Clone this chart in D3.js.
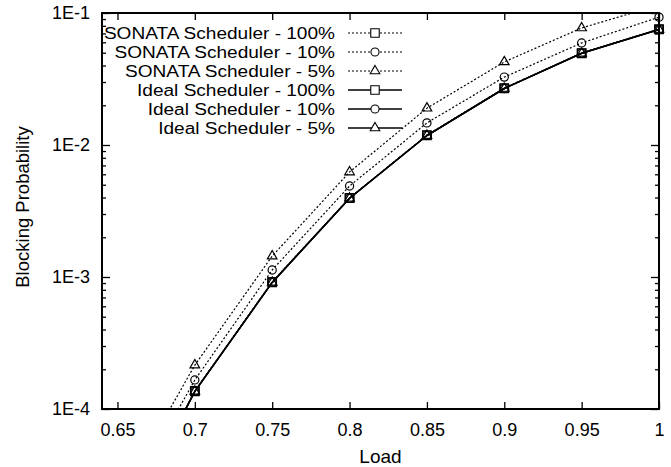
<!DOCTYPE html>
<html>
<head>
<meta charset="utf-8">
<title>Blocking Probability vs Load</title>
<script src="https://cdn.jsdelivr.net/npm/d3@7"></script>
<style>
  body { margin: 0; background: #fff; }
  text { font-family: "Liberation Sans", Arial, Helvetica, sans-serif; fill: #000; }
</style>
</head>
<body>
<div id="chart"></div>
<script>
// values
const loads = [0.65, 0.7, 0.75, 0.8, 0.85, 0.9, 0.95, 1.0];
const sonata100 = [1.0e-5, 1.37e-4, 9.2e-4, 3.97e-3, 1.19e-2, 2.7e-2, 4.97e-2, 7.56e-2];
const sonata10 = [1.5e-5, 1.66e-4, 1.13e-3, 4.89e-3, 1.47e-2, 3.27e-2, 5.93e-2, 9.3e-2];
const sonata5 = [2.0e-5, 2.15e-4, 1.44e-3, 6.24e-3, 1.9e-2, 4.26e-2, 7.7e-2, 1.15e-1];
const ideal100 = [1.0e-5, 1.36e-4, 9.1e-4, 3.95e-3, 1.18e-2, 2.68e-2, 4.95e-2, 7.5e-2];
const ideal10 = [1.0e-5, 1.36e-4, 9.1e-4, 3.95e-3, 1.18e-2, 2.68e-2, 4.95e-2, 7.5e-2];
const ideal5 = [1.0e-5, 1.36e-4, 9.1e-4, 3.95e-3, 1.18e-2, 2.68e-2, 4.95e-2, 7.5e-2];
const xTicks = [0.65, 0.7, 0.75, 0.8, 0.85, 0.9, 0.95, 1];
const yTicks = [1e-4, 1e-3, 1e-2, 1e-1];
const yTickLabels = ["1E-4", "1E-3", "1E-2", "1E-1"];

const series = [
  { name: "SONATA Scheduler - 100%", values: sonata100, shape: d3.symbolSquare, size: 72, dotted: true },
  { name: "SONATA Scheduler - 10%", values: sonata10, shape: d3.symbolCircle, size: 52, dotted: true },
  { name: "SONATA Scheduler - 5%", values: sonata5, shape: d3.symbolTriangle, size: 40, dotted: true },
  { name: "Ideal Scheduler - 100%", values: ideal100, shape: d3.symbolSquare, size: 72, dotted: false },
  { name: "Ideal Scheduler - 10%", values: ideal10, shape: d3.symbolCircle, size: 52, dotted: false },
  { name: "Ideal Scheduler - 5%", values: ideal5, shape: d3.symbolTriangle, size: 40, dotted: false }
];

const W = 671, H = 467;
const margin = { top: 13, right: 12, bottom: 58, left: 102 },
  width = W - margin.left - margin.right,
  height = H - margin.top - margin.bottom;

const svg = d3.select("#chart").append("svg")
  .attr("width", W).attr("height", H);

const g = svg.append("g")
  .attr("transform", `translate(${margin.left}, ${margin.top})`);

const x = d3.scaleLinear().domain([0.64, 1.0]).range([0, width]);
const y = d3.scaleLog().domain([1e-4, 1e-1]).range([height, 0]);

g.append("clipPath").attr("id", "clip")
  .append("rect").attr("width", width).attr("height", height);

// minor log ticks
const minor = [];
[1e-4, 1e-3, 1e-2].forEach(d => { for (let k = 2; k <= 9; k++) minor.push(d * k); });

function styleAxis(sel) {
  sel.select(".domain").remove();
  sel.selectAll(".tick line").attr("stroke", "#000").attr("stroke-width", 1.3);
  sel.selectAll(".tick text").style("font-size", "18px").attr("fill", "#000");
}

// bottom and top
g.append("g").attr("transform", `translate(0, ${height})`)
  .call(d3.axisBottom(x).tickValues(xTicks).tickFormat(d => d === 1 ? "1" : String(d))
    .tickSizeInner(-7).tickSizeOuter(0).tickPadding(14))
  .call(styleAxis);
g.append("g")
  .call(d3.axisTop(x).tickValues(xTicks).tickFormat("").tickSizeInner(-7).tickSizeOuter(0))
  .call(styleAxis);

// left and right
g.append("g")
  .call(d3.axisLeft(y).tickValues(yTicks).tickFormat((d, i) => yTickLabels[i])
    .tickSizeInner(-8).tickSizeOuter(0).tickPadding(12))
  .call(styleAxis);
g.append("g")
  .call(d3.axisLeft(y).tickValues(minor).tickFormat("").tickSizeInner(-4).tickSizeOuter(0))
  .call(styleAxis);
g.append("g").attr("transform", `translate(${width}, 0)`)
  .call(d3.axisRight(y).tickValues(yTicks).tickFormat("").tickSizeInner(-8).tickSizeOuter(0))
  .call(styleAxis);
g.append("g").attr("transform", `translate(${width}, 0)`)
  .call(d3.axisRight(y).tickValues(minor).tickFormat("").tickSizeInner(-4).tickSizeOuter(0))
  .call(styleAxis);

// frame
g.append("rect").attr("width", width).attr("height", height)
  .attr("fill", "none").attr("stroke", "#000").attr("stroke-width", 2);

// axis titles
svg.append("text")
  .attr("x", margin.left + width / 2).attr("y", 463)
  .attr("text-anchor", "middle").style("font-size", "19px").text("Load");
svg.append("text")
  .attr("transform", `translate(29, ${margin.top + height / 2 - 4}) rotate(-90)`)
  .attr("text-anchor", "middle").style("font-size", "18.5px").text("Blocking Probability");

// lines
const line = d3.line().x(d => x(d[0])).y(d => y(d[1]));
const plot = g.append("g").attr("clip-path", "url(#clip)");
series.forEach(s => {
  const pts = loads.map((l, i) => [l, s.values[i]]);
  plot.append("path").datum(pts)
    .attr("fill", "none").attr("stroke", "#000")
    .attr("stroke-width", s.dotted ? 1.2 : 1.5)
    .attr("stroke-dasharray", s.dotted ? "2,2" : null)
    .attr("d", line);
});

// points
series.forEach(s => {
  const pts = loads.map((l, i) => [l, s.values[i]])
    .filter(d => d[1] >= 1e-4 && d[1] <= 1e-1);
  g.append("g").selectAll("path").data(pts).enter().append("path")
    .attr("transform", d => `translate(${x(d[0])}, ${y(d[1])})`)
    .attr("d", d3.symbol().type(s.shape).size(s.size))
    .attr("fill", "none").attr("stroke", "#000").attr("stroke-width", 1.2);
});

// legend - the scanned text is wide but short, so stretch a smaller font
const legend = svg.append("g");
series.forEach((s, i) => {
  const yy = 33 + i * 19;
  const t = legend.append("text").attr("x", 335).attr("y", yy).attr("dy", "0.35em")
    .attr("text-anchor", "end").style("font-size", "16px").text(s.name);
  const len = t.node().getComputedTextLength();
  t.attr("textLength", len * 1.19).attr("lengthAdjust", "spacingAndGlyphs");
  legend.append("line").attr("x1", 348).attr("x2", 402).attr("y1", yy).attr("y2", yy)
    .attr("stroke", "#000").attr("stroke-width", s.dotted ? 1.2 : 1.5)
    .attr("stroke-dasharray", s.dotted ? "2,2" : null);
  legend.append("path").attr("transform", `translate(375, ${yy})`)
    .attr("d", d3.symbol().type(s.shape).size(s.size))
    .attr("fill", "#fff").attr("stroke", "#000").attr("stroke-width", 1.1);
});
</script>
</body>
</html>
